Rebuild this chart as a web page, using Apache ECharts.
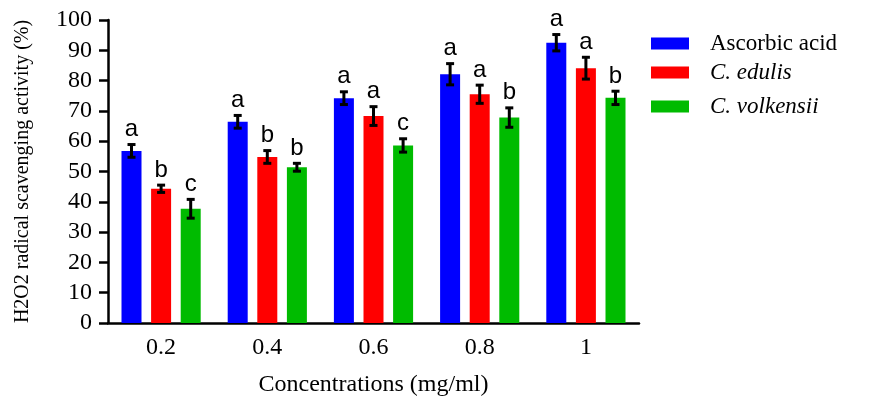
<!DOCTYPE html>
<html>
<head>
<meta charset="utf-8">
<script src="https://cdn.jsdelivr.net/npm/echarts@6/dist/echarts.min.js"></script>
<style>
	html, body { margin: 0; padding: 0; background: #fff; }
	#main { width: 870px; height: 396px; }
</style>
</head>
<body>
<div id="main"></div>
<script>
var concentrations = ['0.2', '0.4', '0.6', '0.8', '1'];

var ascorbic = [56.8, 66.4, 74.2, 82.1, 92.5];
var ascorbicErr = [2.1, 2.1, 2.1, 3.5, 2.7];
var ascorbicLetters = ['a', 'a', 'a', 'a', 'a'];

var edulis = [44.3, 54.8, 68.3, 75.5, 84.1];
var edulisErr = [1.2, 2.1, 3.1, 3.0, 3.6];
var edulisLetters = ['b', 'b', 'a', 'a', 'a'];

var volkensii = [37.7, 51.4, 58.6, 67.8, 74.3];
var volkensiiErr = [3.1, 1.3, 2.2, 3.2, 2.2];
var volkensiiLetters = ['c', 'b', 'c', 'b', 'b'];

var serif = '"Liberation Serif", "Times New Roman", serif';
var sans = '"Liberation Sans", Arial, sans-serif';

function errorSeries(vals, errs, letters, offset) {
	var data = [];
	for (var i = 0; i < vals.length; i++) {
		data.push([i, vals[i], errs[i]]);
	}
	return {
		type: 'custom',
		data: data,
		z: 5,
		encode: { x: 0, y: 1 },
		renderItem: function(params, api) {
			var i = api.value(0);
			var v = api.value(1);
			var e = api.value(2);
			var top = api.coord([i, v + e]);
			var bot = api.coord([i, v - e]);
			var x = top[0] + offset;
			var st = { stroke: '#000', lineWidth: 3 };
			return {
				type: 'group',
				children: [
					{ type: 'line', shape: { x1: x, y1: top[1], x2: x, y2: bot[1] }, style: st },
					{ type: 'line', shape: { x1: x - 4, y1: top[1], x2: x + 4, y2: top[1] }, style: st },
					{ type: 'line', shape: { x1: x - 4, y1: bot[1], x2: x + 4, y2: bot[1] }, style: st },
					{
						type: 'text',
						style: {
							x: x, y: top[1] - 3,
							text: letters[params.dataIndex],
							textAlign: 'center', textVerticalAlign: 'bottom',
							fontFamily: sans, fontSize: 24, fill: '#000'
						}
					}
				]
			};
		}
	};
}

function legendBox(name, top, italic) {
	return {
		data: [name],
		left: 651,
		top: top,
		padding: 0,
		itemWidth: 38,
		itemHeight: 12,
		icon: 'rect',
		selectedMode: false,
		textStyle: {
			fontFamily: serif,
			fontSize: 23,
			color: '#000',
			fontStyle: italic ? 'italic' : 'normal',
			padding: [0, 0, 0, 16]
		}
	};
}

var mychart = echarts.init(document.getElementById('main'));

var option = {
	animation: false,
	grid: { left: 108, right: 231, top: 20, bottom: 73, outerBoundsMode: 'none' },
	legend: [
		legendBox('Ascorbic acid', 32, false),
		legendBox('C. edulis', 61, true),
		legendBox('C. volkensii', 95, true)
	],
	xAxis: {
		type: 'category',
		data: concentrations,
		name: 'Concentrations (mg/ml)',
		nameLocation: 'middle',
		nameGap: 50,
		nameTextStyle: { fontFamily: serif, fontSize: 24, color: '#000' },
		axisLine: { lineStyle: { color: '#000', width: 2.5 } },
		axisTick: { alignWithLabel: true, length: 9, lineStyle: { color: '#000', width: 3 } },
		axisLabel: { fontFamily: serif, fontSize: 24, color: '#000', margin: 13 }
	},
	yAxis: {
		type: 'value',
		min: 0,
		max: 100,
		interval: 10,
		name: 'H2O2 radical scavenging activity (%)',
		nameLocation: 'middle',
		nameGap: 75,
		nameTextStyle: { fontFamily: serif, fontSize: 20, color: '#000' },
		axisLine: { show: true, lineStyle: { color: '#000', width: 2.5 } },
		axisTick: { show: true, length: 9, lineStyle: { color: '#000', width: 2.5 } },
		axisLabel: { fontFamily: serif, fontSize: 24, color: '#000', margin: 16 },
		splitLine: { show: false }
	},
	series: [
		{ name: 'Ascorbic acid', type: 'bar', data: ascorbic, barWidth: 20, barGap: '48%', itemStyle: { color: '#0000ff' } },
		{ name: 'C. edulis', type: 'bar', data: edulis, barWidth: 20, barGap: '48%', itemStyle: { color: '#ff0000' } },
		{ name: 'C. volkensii', type: 'bar', data: volkensii, barWidth: 20, barGap: '48%', itemStyle: { color: '#00bb00' } },
		errorSeries(ascorbic, ascorbicErr, ascorbicLetters, -29.6),
		errorSeries(edulis, edulisErr, edulisLetters, 0),
		errorSeries(volkensii, volkensiiErr, volkensiiLetters, 29.6)
	]
};

mychart.setOption(option);
</script>
</body>
</html>
